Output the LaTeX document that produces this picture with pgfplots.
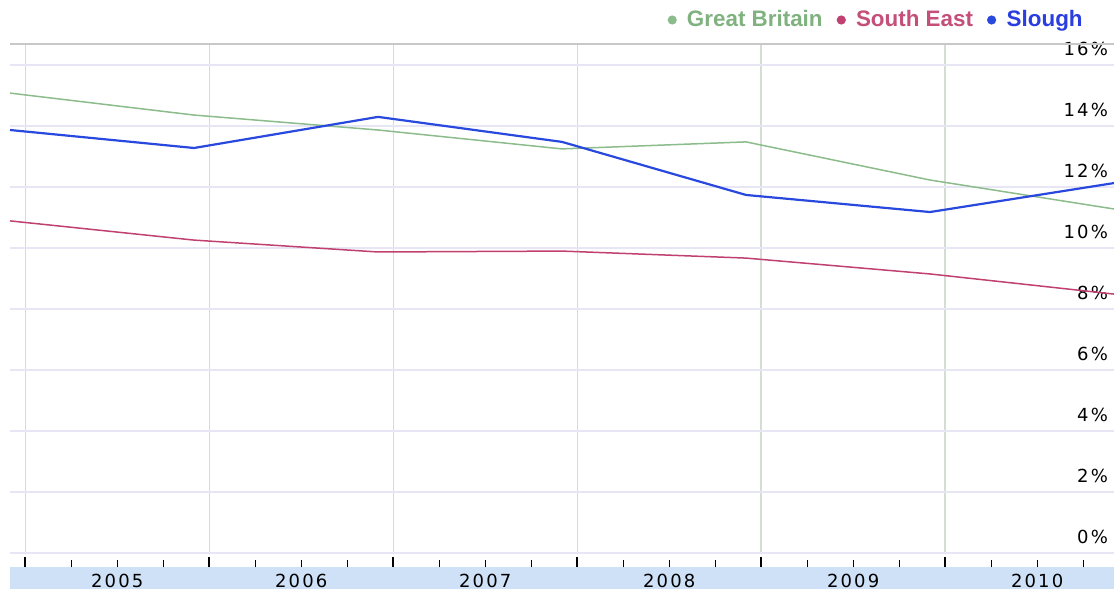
\documentclass[border=0pt]{standalone}
\usepackage{fontspec}
\setmainfont{DejaVu Sans}
\newfontfamily\tickfont[LetterSpace=12]{DejaVu Sans}
\newfontfamily\legfont{Liberation Sans}
\usepackage{pgfplots}
\pgfplotsset{compat=1.18}
\usetikzlibrary{calc,backgrounds}

\definecolor{gbline}{RGB}{140,188,140}
\definecolor{gbtext}{RGB}{128,178,128}
\definecolor{seline}{RGB}{192,64,112}
\definecolor{setext}{RGB}{196,80,122}
\definecolor{slline}{RGB}{40,72,222}
\definecolor{sltext}{RGB}{42,62,224}
\definecolor{vgrid}{RGB}{212,220,212}
\definecolor{hgrid}{RGB}{230,230,244}
\definecolor{bandblue}{RGB}{207,225,247}
\definecolor{framegray}{RGB}{200,200,200}

\begin{document}
\begin{tikzpicture}
\begin{axis}[
  name=ax,
  scale only axis,
  width=552pt, height=254.5pt,
  xmin=2004.917, xmax=2010.917,
  ymin=0, ymax=16.69,
  axis line style={draw=none},
  xtick={2005,...,2010},
  xticklabels={2005,2006,2007,2008,2009,2010},
  minor xtick={2005,2005.25,...,2010.75},
  xtick pos=bottom,
  tick align=outside,
  major tick length=5pt,
  minor tick length=3.5pt,
  major x tick style={black, line width=0.9pt, yshift=-2pt},
  minor x tick style={black, line width=0.7pt, yshift=-3.5pt},
  x tick label style={anchor=center, xshift=46pt, yshift=-9pt,
    font=\tickfont\fontsize{9}{10}\selectfont},
  ytick={0,2,...,16},
  yticklabels={0\%,2\%,4\%,6\%,8\%,10\%,12\%,14\%,16\%},
  ytick pos=right,
  major y tick style={draw=none},
  y tick label style={anchor=south east, xshift=-4.5pt, yshift=1pt,
    font=\tickfont\fontsize{9}{10}\selectfont},
  xmajorgrids, ymajorgrids,
  major x grid style={vgrid, line width=0.7pt},
  major y grid style={hgrid, line width=0.7pt},
  legend columns=-1,
  legend style={draw=none, fill=none, at={(rel axis cs:1,1)}, anchor=east,
    xshift=-13.5pt, yshift=12pt, inner sep=0pt,
    font=\legfont\bfseries\fontsize{11.2}{12}\selectfont,
    /tikz/every even column/.append style={column sep=5pt}},
  legend image code/.code={\fill[#1, draw=none] (0pt,0pt) circle (2.3pt);
    \path (5pt,0pt);},
]
\addplot[gbline, line width=0.75pt] coordinates {
  (2004.917,15.08) (2005.917,14.36) (2006.917,13.87) (2007.917,13.25)
  (2008.917,13.48) (2009.917,12.23) (2010.917,11.28)};
\addlegendentry{\textcolor{gbtext}{Great Britain}}
\addplot[seline, line width=0.75pt] coordinates {
  (2004.917,10.89) (2005.917,10.26) (2006.917,9.87) (2007.917,9.90)
  (2008.917,9.67) (2009.917,9.15) (2010.917,8.49)};
\addlegendentry{\textcolor{setext}{South East}}
\addplot[slline, line width=1.1pt] coordinates {
  (2004.917,13.87) (2005.917,13.28) (2006.917,14.30) (2007.917,13.48)
  (2008.917,11.74) (2009.917,11.18) (2010.917,12.13)};
\addlegendentry{\textcolor{sltext}{Slough}}
\end{axis}
\draw[framegray, line width=0.8pt] (ax.north west) -- (ax.north east);
\begin{scope}[on background layer]
\fill[bandblue] ($(ax.south west)+(0,-7pt)$) rectangle ($(ax.south east)+(0,-18pt)$);
\end{scope}
\pgfresetboundingbox
\path ($(ax.south west)+(-5pt,-18pt)$) rectangle ($(ax.north east)+(0,22pt)$);
\end{tikzpicture}
\end{document}
